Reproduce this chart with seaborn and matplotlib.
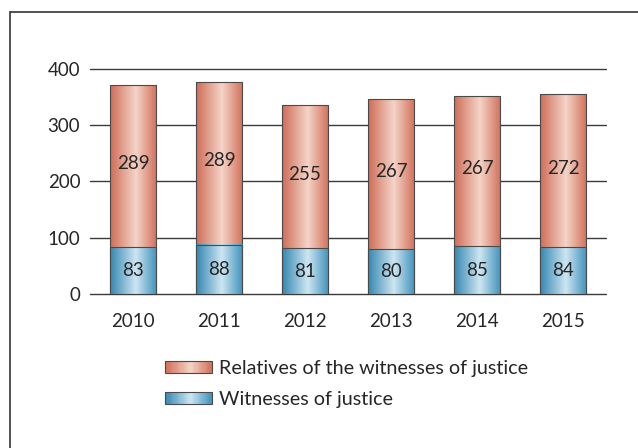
import numpy as np
import pandas as pd
import matplotlib
matplotlib.use("Agg")
import matplotlib.pyplot as plt
import seaborn as sns
from matplotlib.colors import LinearSegmentedColormap
from matplotlib.patches import Rectangle, Patch
from matplotlib.lines import Line2D
from matplotlib.legend_handler import HandlerBase

years = ["2010", "2011", "2012", "2013", "2014", "2015"]
witnesses = [83, 88, 81, 80, 85, 84]
relatives = [289, 289, 255, 267, 267, 272]
series_names = ["Relatives of the witnesses of justice", "Witnesses of justice"]
yticks = [0, 100, 200, 300, 400]

sns.set_theme(style="white")
plt.rcParams["font.family"] = ["Lato", "DejaVu Sans"]
TXT = "#262626"

df = pd.DataFrame({"year": years, "witnesses": witnesses, "relatives": relatives})
df["total"] = df["witnesses"] + df["relatives"]

red_cmap = LinearSegmentedColormap.from_list(
    "red", [(0, "#d06c56"), (0.55, "#f4d4c8"), (1, "#d27059")])
blue_cmap = LinearSegmentedColormap.from_list(
    "blue", [(0, "#3386b0"), (0.55, "#cde6f1"), (1, "#3f92bd")])
EDGE = "#4a4a4a"

fig = plt.figure(figsize=(6.38, 4.48), dpi=100)
ax = fig.add_axes([90 / 638, 1 - 294 / 448, 516 / 638, 225 / 448])

sns.barplot(data=df, x="year", y="total", color="#d06c56", width=0.54,
            ax=ax, edgecolor=EDGE, linewidth=0.8)
n_red = len(ax.patches)
sns.barplot(data=df, x="year", y="witnesses", color="#3386b0", width=0.54,
            ax=ax, edgecolor=EDGE, linewidth=0.8)

grad = np.linspace(0, 1, 256).reshape(1, -1)
for i, p in enumerate(list(ax.patches)):
    base = 2 if i < n_red else 3
    cmap = red_cmap if i < n_red else blue_cmap
    x0, y0 = p.get_x(), p.get_y()
    w, h = p.get_width(), p.get_height()
    im = ax.imshow(grad, cmap=cmap, extent=[x0, x0 + w, y0, y0 + h],
                   aspect="auto", zorder=base + 0.05, interpolation="bilinear")
    im.set_clip_path(p)
    p.set_facecolor("none")
    p.set_zorder(base + 0.1)

for i in range(len(years)):
    ax.text(i, witnesses[i] / 2, str(witnesses[i]), ha="center", va="center",
            fontsize=13.5, color=TXT, zorder=5)
    ax.text(i, witnesses[i] + relatives[i] / 2 + 4, str(relatives[i]),
            ha="center", va="center", fontsize=13.5, color=TXT, zorder=5)

ax.set_xlim(-0.5, 5.5)
ax.set_ylim(0, 400)
ax.set_yticks(yticks)
ax.set_yticklabels([str(v) for v in yticks])
for v in yticks:
    ax.axhline(v, color="#3a3a3a", lw=1.0, zorder=1, clip_on=False)
for s in ax.spines.values():
    s.set_visible(False)
ax.tick_params(axis="both", length=0, labelsize=13.5, colors=TXT)
ax.tick_params(axis="y", pad=7)
ax.tick_params(axis="x", pad=14)
ax.set_xlabel("")
ax.set_ylabel("")
ax.grid(False)


class GradientHandler(HandlerBase):
    def __init__(self, cmap):
        super().__init__()
        self.cmap = cmap

    def create_artists(self, legend, orig_handle, xdescent, ydescent,
                       width, height, fontsize, trans):
        arts = []
        n = 40
        for k in range(n):
            arts.append(Rectangle((-xdescent + width * k / n, -ydescent),
                                  width / n * 1.1, height,
                                  facecolor=self.cmap((k + 0.5) / n),
                                  edgecolor="none", transform=trans))
        arts.append(Rectangle((-xdescent, -ydescent), width, height,
                              facecolor="none", edgecolor=EDGE, lw=0.8,
                              transform=trans))
        return arts


h_red = Patch(label=series_names[0])
h_blue = Patch(label=series_names[1])
fig.legend(handles=[h_red, h_blue], labels=series_names,
           handler_map={h_red: GradientHandler(red_cmap),
                        h_blue: GradientHandler(blue_cmap)},
           loc="upper left", bbox_to_anchor=(165 / 638, 1 - 360 / 448),
           frameon=False, borderpad=0, borderaxespad=0,
           handlelength=2.37, handleheight=0.57, handletextpad=0.36,
           labelspacing=0.7, fontsize=14.2, labelcolor=TXT)

fig.add_artist(Line2D([10 / 638, 1], [1 - 12 / 448] * 2,
                      transform=fig.transFigure, color="#444444", lw=1.3))
fig.add_artist(Line2D([10 / 638] * 2, [0, 1 - 12 / 448],
                      transform=fig.transFigure, color="#444444", lw=1.3))

fig.savefig("out.png", dpi=100, facecolor="white")
